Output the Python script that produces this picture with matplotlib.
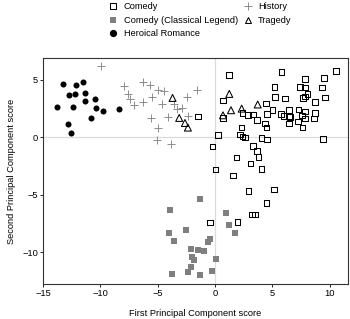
import matplotlib
matplotlib.use("Agg")
import matplotlib.pyplot as plt
from matplotlib.lines import Line2D

plt.rcParams['font.family'] = ['Liberation Sans', 'DejaVu Sans']

comedy_x = [-1.49, 1.22, 5.8, 10.56, 7.88, 9.5, 5.19, 7.4, 7.87, 9.33, 0.68, 4.47, 5.25, 6.12, 7.7, 7.87, 8.08,
            8.72, 9.6, 0.7, 2.4, 2.9, 3.33, 3.65, 4.53, 5.03, 5.74, 5.98, 6.44, 6.45, 7.29, 7.87, 8.75, 6.56,
            7.58, 7.87, 8.66, 6.45, 7.26, 4.37, 4.5, 7.62, 2.33, 0.27, 2.19, 2.39, 2.62, 4.08, 4.52, 9.42,
            -0.21, 3.34, 3.66, 1.88, 3.79, 3.09, 4.05, 0.03, 1.57, 2.92, 5.16, 4.49, 3.21, 3.5, -0.41, 1.98]
comedy_y = [1.81, 5.42, 5.68, 5.75, 5.07, 5.18, 4.39, 4.36, 4.34, 4.34, 3.2, 2.93, 3.5, 3.38, 3.43, 3.55, 3.75,
            3.08, 3.45, 1.7, 2.1, 1.95, 1.98, 1.5, 2.04, 2.36, 2.01, 1.86, 2.4, 1.86, 2.42, 2.25, 2.14, 1.77,
            1.92, 1.63, 1.63, 1.22, 1.37, 1.22, 0.87, 0.85, 0.87, 0.22, 0.26, 0.09, -0.03, -0.06, -0.2, -0.16,
            -0.81, -0.76, -1.18, -1.74, -1.7, -2.27, -2.74, -2.79, -3.32, -4.66, -4.54, -5.7, -6.72, -6.72, -7.42, -7.34]

legend_x = [-1.34, 0.99, 1.2, 1.78, -0.44, -0.64, -3.96, -2.51, -4.0, -3.61, -2.1, -1.46, -0.94, -2.04,
            -1.86, 0.06, -2.13, -2.34, -3.76, -1.29, -0.29]
legend_y = [-5.39, -6.61, -7.6, -8.3, -8.88, -9.08, -6.31, -8.1, -8.36, -9.0, -9.67, -9.78, -9.93, -10.39,
            -10.63, -10.6, -11.3, -11.73, -11.9, -11.94, -11.64]

heroic_x = [-13.27, -12.16, -11.49, -12.77, -12.22, -11.31, -11.35, -10.47, -13.82, -12.36, -10.38, -9.8,
            -8.4, -10.79, -12.8, -12.6]
heroic_y = [4.63, 4.57, 4.86, 3.67, 3.73, 3.87, 3.2, 3.38, 2.62, 2.62, 2.59, 2.3, 2.5, 1.72, 1.19, 0.41]

history_x = [-9.95, -7.93, -7.58, -7.44, -7.06, -6.3, -5.63, -4.96, -4.46, -1.58, -6.27, -5.49, -4.61,
             -3.56, -2.4, -3.35, -2.86, -5.54, -4.11, -5.01, -2.36, -5.05, -3.85]
history_y = [6.17, 4.5, 3.73, 3.38, 2.79, 4.82, 4.57, 4.16, 4.05, 4.08, 3.08, 3.49, 2.91, 2.94, 3.5, 2.5,
             2.56, 1.69, 1.81, 0.81, 1.82, -0.26, -0.55]

tragedy_x = [-3.7, -3.12, -2.62, -2.36, 1.25, 0.7, 1.4, 2.33, 3.73]
tragedy_y = [3.43, 1.69, 1.25, 0.85, 3.78, 1.92, 2.36, 2.5, 2.86]

x_ticks = [-15, -10, -5, 0, 5, 10]
y_ticks = [-10, -5, 0, 5]

fig = plt.figure(figsize=(3.5, 3.19), dpi=100)
ax = fig.add_axes([0.123, 0.11, 0.871, 0.708])

ax.axhline(0, color="#dcdcdc", lw=0.9, zorder=0)
ax.axvline(0, color="#dcdcdc", lw=0.9, zorder=0)

ms = 16
ax.scatter(legend_x, legend_y, marker="s", s=ms + 3, color="#7f7f7f", linewidths=0, zorder=2)
ax.scatter(history_x, history_y, marker="+", s=40, color="#8c8c8c", linewidths=0.7, zorder=2)
ax.scatter(heroic_x, heroic_y, marker="o", s=19, color="black", linewidths=0, zorder=2)
ax.scatter(comedy_x, comedy_y, marker="s", s=ms, facecolors="none", edgecolors="black", linewidths=0.75, zorder=3)
ax.scatter(tragedy_x, tragedy_y, marker="^", s=25, facecolors="none", edgecolors="black", linewidths=0.75, zorder=3)

ax.set_xlim(-15.0, 11.6)
ax.set_ylim(-12.75, 6.9)
ax.set_xticks(x_ticks)
ax.set_yticks(y_ticks)
ax.tick_params(labelsize=6.7, length=2, width=0.6, pad=1.5)
for sp in ax.spines.values():
    sp.set_linewidth(0.8)
    sp.set_color("#333333")

ax.set_xlabel("First Principal Component score", fontsize=6.7)
ax.xaxis.set_label_coords(0.5, -0.113)
ax.set_ylabel("Second Principal Component score", fontsize=6.7)
ax.yaxis.set_label_coords(-0.09, 0.5)

handles = [
    Line2D([], [], ls="none", marker="s", ms=4, mfc="none", mec="black", mew=0.75),
    Line2D([], [], ls="none", marker="s", ms=4.2, mfc="#7f7f7f", mec="#7f7f7f", mew=0),
    Line2D([], [], ls="none", marker="o", ms=4.2, mfc="black", mec="black"),
    Line2D([], [], ls="none", marker="+", ms=6, mec="#8c8c8c", mew=0.7),
    Line2D([], [], ls="none", marker="^", ms=5, mfc="none", mec="black", mew=0.75),
]
labels = ["Comedy", "Comedy (Classical Legend)", "Heroical Romance", "History", "Tragedy"]
fig.legend(handles, labels, ncol=2, loc="upper left", bbox_to_anchor=(0.30, 1.005), frameon=False,
           fontsize=6.7, handlelength=1.0, handletextpad=0.6, columnspacing=0.6, labelspacing=0.5,
           borderaxespad=0)

fig.savefig("out.png", dpi=100)
